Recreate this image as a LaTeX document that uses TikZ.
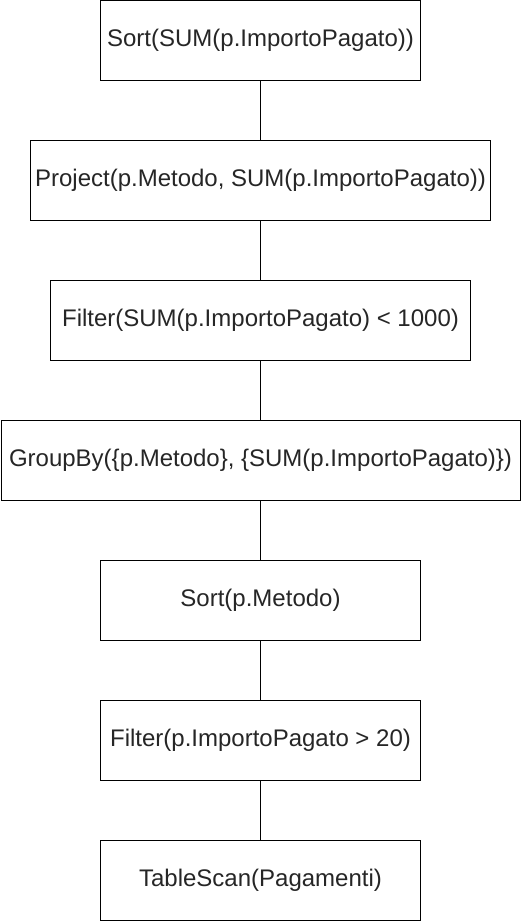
\documentclass[tikz,border=0pt]{standalone}
\usepackage{fontspec}
\setmainfont{Liberation Sans}
\begin{document}
\begin{tikzpicture}[x=1pt,y=-1pt,
  opbox/.style={draw=black, line width=1pt, fill=white, minimum height=80pt, inner sep=0pt, font=\fontsize{24}{28}\selectfont, text=black!85},
  link/.style={draw=black, line width=1pt}]
\useasboundingbox (0,0) rectangle (521,921);
\node[opbox, minimum width=320pt] (s1) at (260.5,40.5) {Sort(SUM(p.ImportoPagato))};
\node[opbox, minimum width=460pt] (pr) at (260.5,180.5) {Project(p.Metodo, SUM(p.ImportoPagato))};
\node[opbox, minimum width=420pt] (f1) at (260.5,320.5) {Filter(SUM(p.ImportoPagato) < 1000)};
\node[opbox, minimum width=519pt] (gb) at (260.5,460.5) {GroupBy(\{p.Metodo\}, \{SUM(p.ImportoPagato)\})};
\node[opbox, minimum width=320pt] (s2) at (260.5,600.5) {Sort(p.Metodo)};
\node[opbox, minimum width=320pt] (f2) at (260.5,740.5) {Filter(p.ImportoPagato > 20)};
\node[opbox, minimum width=320pt] (ts) at (260.5,880.5) {TableScan(Pagamenti)};
\draw[link] (s1) -- (pr);
\draw[link] (pr) -- (f1);
\draw[link] (f1) -- (gb);
\draw[link] (gb) -- (s2);
\draw[link] (s2) -- (f2);
\draw[link] (f2) -- (ts);
\end{tikzpicture}
\end{document}
